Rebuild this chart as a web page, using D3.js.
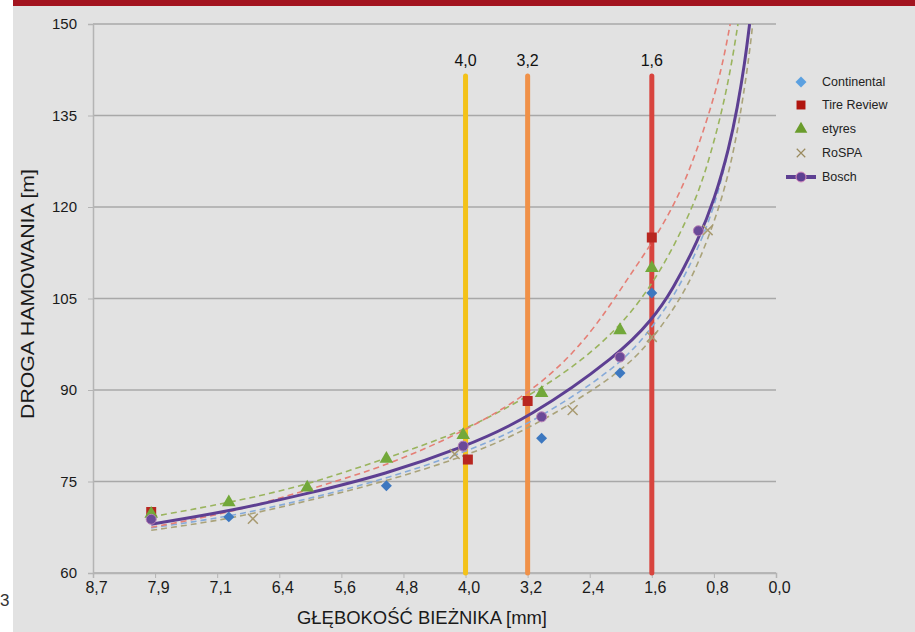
<!DOCTYPE html>
<html>
<head>
<meta charset="utf-8">
<script src="https://cdn.jsdelivr.net/npm/d3@7"></script>
<style>
  body { margin: 0; background: #fff; }
  svg { display: block; }
  text { font-family: "Liberation Sans", Arial, sans-serif; fill: #1a1a1a; }
</style>
</head>
<body>
<div class="chart"></div>
<script>
// tick labels
var xTicks = [8.8, 8.0, 7.2, 6.4, 5.6, 4.8, 4.0, 3.2, 2.4, 1.6, 0.8, 0.0];
var xTickLabels = ["8,7", "7,9", "7,1", "6,4", "5,6", "4,8", "4,0", "3,2", "2,4", "1,6", "0,8", "0,0"];
var yTicks = [60, 75, 90, 105, 120, 135, 150];

// vertical limit bars
var limitDepths = [4.0, 3.2, 1.6];
var limitLabels = ["4,0", "3,2", "1,6"];

// measured points [depth mm, braking distance m]
var continental = [[8.05, 69.0], [7.05, 69.2], [5.02, 74.3], [3.02, 82.1], [2.01, 92.8], [1.6, 105.9]];
var tireReview = [[8.05, 70.0], [3.97, 78.6], [3.2, 88.2], [1.6, 115.0]];
var etyres = [[8.05, 69.7], [7.05, 71.6], [6.04, 74.0], [5.02, 78.7], [4.03, 82.6], [3.02, 89.5], [2.01, 99.8], [1.6, 110.0]];
var rospa = [[6.74, 68.9], [4.14, 79.5], [2.62, 86.7], [1.6, 98.7], [0.88, 116.2]];
var bosch = [[8.05, 68.8], [4.03, 80.8], [3.02, 85.6], [2.01, 95.4], [1.0, 116.1]];

// trend curves
var trendContinental = [[8.05, 67.4], [7.05, 69.2], [6.04, 72.1], [5.03, 75.4], [4.03, 79.7], [3.2, 84.1], [2.01, 93.9], [1.6, 100.2], [1.3, 105.6], [1.0, 113.2], [0.75, 121.5], [0.55, 133], [0.42, 142], [0.34, 150]];
var trendTireReview = [[8.05, 67.5], [7.05, 69.8], [6.04, 73.6], [5.03, 77.5], [4.03, 83.1], [3.2, 89.2], [2.6, 96], [2.18, 103], [1.9, 108.5], [1.6, 114], [1.21, 122.5], [0.89, 134], [0.7, 142.5], [0.59, 150]];
var trendEtyres = [[8.05, 69.2], [7.05, 71.5], [6.04, 74.4], [5.03, 78.8], [4.03, 83.2], [3.2, 88.9], [2.6, 93.8], [2.01, 100.3], [1.6, 107.2], [1.3, 113.9], [1.02, 121.5], [0.85, 128.3], [0.7, 135.5], [0.58, 142.8], [0.49, 150]];
var trendRospa = [[8.05, 67.0], [7.05, 68.8], [6.04, 71.8], [5.03, 75.0], [4.03, 79.0], [3.2, 83.4], [2.01, 92.6], [1.6, 98.2], [1.24, 104.7], [1.0, 110.6], [0.68, 121.5], [0.5, 131.8], [0.36, 143.2], [0.3, 150]];
var trendBosch = [[8.05, 68.0], [7.05, 70.1], [6.04, 73.0], [5.03, 76.2], [4.03, 80.6], [3.2, 85.2], [2.01, 95.9], [1.6, 101.5], [1.34, 106.2], [1.0, 114.6], [0.79, 121.3], [0.6, 129.9], [0.5, 136.1], [0.4, 143.8], [0.34, 150]];

var svgWidth = 915;
var svgHeight = 632;
var plot = { left: 93, right: 776, top: 24, bottom: 573 };

var svg = d3.select(".chart")
  .append("svg")
  .attr("width", svgWidth)
  .attr("height", svgHeight);

// panel background + red strip on top
svg.append("rect").attr("x", 13).attr("y", 0).attr("width", svgWidth - 13).attr("height", svgHeight).attr("fill", "#e2e2e2");
svg.append("rect").attr("x", 13).attr("y", 0).attr("width", svgWidth - 13).attr("height", 6).attr("fill", "#a3141f");

svg.append("text").attr("x", 0).attr("y", 606).attr("font-size", 17).style("fill", "#333").text("3");

var x = d3.scaleLinear().domain([8.8, 0]).range([plot.left, plot.right]);
var y = d3.scaleLinear().domain([60, 150]).range([plot.bottom, plot.top]);

// gridlines
svg.append("g").selectAll("line")
  .data(yTicks)
  .enter().append("line")
  .attr("x1", plot.left).attr("x2", plot.right)
  .attr("y1", function(d) { return y(d); })
  .attr("y2", function(d) { return y(d); })
  .attr("stroke", "#a8a8a8")
  .attr("stroke-width", 1.5);

// y axis
var yAxis = d3.axisLeft(y).tickValues(yTicks).tickSize(5).tickPadding(11).tickFormat(d3.format("d"));
var gy = svg.append("g").attr("transform", "translate(" + plot.left + ",0)").call(yAxis);
gy.select(".domain").attr("stroke", "#b4b4b4").attr("stroke-width", 1.5);
gy.selectAll(".tick line").attr("stroke", "#b4b4b4");
gy.selectAll(".tick text").attr("font-size", 15).attr("font-family", "Liberation Sans, Arial, sans-serif").style("fill", "#1a1a1a");

// x axis
var xAxis = d3.axisBottom(x).tickValues(xTicks).tickSize(5).tickPadding(4)
  .tickFormat(function(d, i) { return xTickLabels[i]; });
var gx = svg.append("g").attr("transform", "translate(0," + plot.bottom + ")").call(xAxis);
gx.select(".domain").attr("stroke", "#b4b4b4").attr("stroke-width", 1.5);
gx.selectAll(".tick line").attr("stroke", "#b4b4b4");
gx.selectAll(".tick text").attr("font-size", 16).attr("font-family", "Liberation Sans, Arial, sans-serif").attr("dx", 3).style("fill", "#1a1a1a");

// axis titles
svg.append("text")
  .attr("x", 422).attr("y", 624)
  .attr("text-anchor", "middle")
  .attr("font-size", 18)
  .attr("textLength", 250)
  .attr("lengthAdjust", "spacingAndGlyphs")
  .text("GŁĘBOKOŚĆ BIEŻNIKA [mm]");

svg.append("text")
  .attr("transform", "translate(34,294) rotate(-90)")
  .attr("text-anchor", "middle")
  .attr("font-size", 18.5)
  .attr("textLength", 250)
  .attr("lengthAdjust", "spacingAndGlyphs")
  .text("DROGA HAMOWANIA [m]");

// limit bars
var barColors = ["#f3c21a", "#f09148", "#d8443e"];
svg.append("g").selectAll("line")
  .data(limitDepths)
  .enter().append("line")
  .attr("x1", function(d) { return x(d); })
  .attr("x2", function(d) { return x(d); })
  .attr("y1", y(60)).attr("y2", 76)
  .attr("stroke", function(d, i) { return barColors[i]; })
  .attr("stroke-width", 5)
  .attr("stroke-linecap", "round");

svg.append("g").selectAll("text")
  .data(limitDepths)
  .enter().append("text")
  .attr("x", function(d) { return x(d); })
  .attr("y", 66)
  .attr("text-anchor", "middle")
  .attr("font-size", 16)
  .style("fill", "#111")
  .text(function(d, i) { return limitLabels[i]; });

// trend curves
svg.append("clipPath").attr("id", "plotclip")
  .append("rect").attr("x", plot.left).attr("y", plot.top)
  .attr("width", plot.right - plot.left).attr("height", plot.bottom - plot.top);

var line = d3.line()
  .x(function(d) { return x(d[0]); })
  .y(function(d) { return y(d[1]); })
  .curve(d3.curveBasis);

var curves = svg.append("g").attr("clip-path", "url(#plotclip)");
var trends = [
  { data: trendRospa, color: "#aaa37a" },
  { data: trendContinental, color: "#86aad9" },
  { data: trendEtyres, color: "#9ab45e" },
  { data: trendTireReview, color: "#e57f76" }
];
trends.forEach(function(t) {
  curves.append("path")
    .attr("d", line(t.data))
    .attr("fill", "none")
    .attr("stroke", t.color)
    .attr("stroke-width", 1.6)
    .attr("stroke-dasharray", "6,4");
});
curves.append("path")
  .attr("d", line(trendBosch))
  .attr("fill", "none")
  .attr("stroke", "#5d3f92")
  .attr("stroke-width", 3);

// markers
var sym = function(type, size) { return d3.symbol().type(type).size(size)(); };
var pts = svg.append("g");

pts.selectAll(".conti").data(continental).enter().append("path")
  .attr("transform", function(d) { return "translate(" + x(d[0]) + "," + y(d[1]) + ") rotate(45)"; })
  .attr("d", sym(d3.symbolSquare, 60))
  .attr("fill", "#3d78c0");

pts.selectAll(".tire").data(tireReview).enter().append("path")
  .attr("transform", function(d) { return "translate(" + x(d[0]) + "," + y(d[1]) + ")"; })
  .attr("d", sym(d3.symbolSquare, 100))
  .attr("fill", "#b82620");

pts.selectAll(".ety").data(etyres).enter().append("path")
  .attr("transform", function(d) { return "translate(" + x(d[0]) + "," + y(d[1]) + ")"; })
  .attr("d", sym(d3.symbolTriangle, 80))
  .attr("fill", "#72a83a");

pts.selectAll(".ros").data(rospa).enter().append("path")
  .attr("transform", function(d) { return "translate(" + x(d[0]) + "," + y(d[1]) + ") rotate(45)"; })
  .attr("d", "M-7,0H7M0,-7V7")
  .attr("stroke", "#a89a70")
  .attr("stroke-width", 1.5);

pts.selectAll(".bos").data(bosch).enter().append("circle")
  .attr("cx", function(d) { return x(d[0]); })
  .attr("cy", function(d) { return y(d[1]); })
  .attr("r", 5)
  .attr("fill", "#6a4a98")
  .attr("stroke", "#b77fb4")
  .attr("stroke-width", 1);

// legend
var legendNames = ["Continental", "Tire Review", "etyres", "RoSPA", "Bosch"];
var legendY = [82, 105, 129, 153, 177];
var lg = svg.append("g");
lg.append("path").attr("transform", "translate(801," + legendY[0] + ") rotate(45)").attr("d", sym(d3.symbolSquare, 60)).attr("fill", "#5ba0e0");
lg.append("path").attr("transform", "translate(801," + legendY[1] + ")").attr("d", sym(d3.symbolSquare, 80)).attr("fill", "#b0150f");
lg.append("path").attr("transform", "translate(801," + legendY[2] + ")").attr("d", sym(d3.symbolTriangle, 70)).attr("fill", "#6a9c2c");
lg.append("path").attr("transform", "translate(801," + legendY[3] + ") rotate(45)").attr("d", "M-6,0H6M0,-6V6").attr("stroke", "#9a8a5e").attr("stroke-width", 1.2);
lg.append("line").attr("x1", 786).attr("x2", 816).attr("y1", legendY[4]).attr("y2", legendY[4]).attr("stroke", "#5d3f92").attr("stroke-width", 4);
lg.append("circle").attr("cx", 801).attr("cy", legendY[4]).attr("r", 5).attr("fill", "#5d3f92").attr("stroke", "#d98fc0").attr("stroke-width", 1);
lg.selectAll("text").data(legendNames).enter().append("text")
  .attr("x", 822)
  .attr("y", function(d, i) { return legendY[i] + 4; })
  .attr("font-size", 12.5)
  .attr("font-family", "DejaVu Sans, sans-serif")
  .style("fill", "#222")
  .text(function(d) { return d; });
</script>
</body>
</html>
